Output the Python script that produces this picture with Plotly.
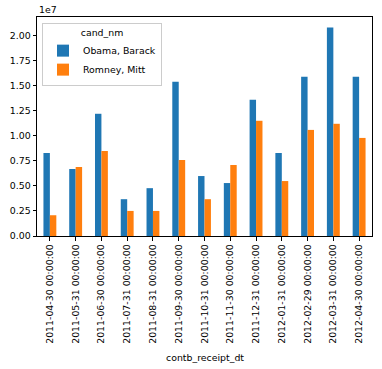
import plotly.graph_objects as go

dates = ["2011-04-30 00:00:00", "2011-05-31 00:00:00", "2011-06-30 00:00:00",
         "2011-07-31 00:00:00", "2011-08-31 00:00:00", "2011-09-30 00:00:00",
         "2011-10-31 00:00:00", "2011-11-30 00:00:00", "2011-12-31 00:00:00",
         "2012-01-31 00:00:00", "2012-02-29 00:00:00", "2012-03-31 00:00:00",
         "2012-04-30 00:00:00"]
obama = [8.28e6, 6.68e6, 12.19e6, 3.67e6, 4.77e6, 15.39e6, 5.98e6, 5.28e6,
         13.59e6, 8.28e6, 15.89e6, 20.80e6, 15.89e6]
romney = [2.07e6, 6.88e6, 8.48e6, 2.50e6, 2.50e6, 7.58e6, 3.67e6, 7.08e6,
          11.49e6, 5.48e6, 10.58e6, 11.19e6, 9.78e6]
ytickvals = [0, 2.5e6, 5e6, 7.5e6, 10e6, 12.5e6, 15e6, 17.5e6, 20e6]
yticktext = ["0.00", "0.25", "0.50", "0.75", "1.00", "1.25", "1.50", "1.75", "2.00"]

font = dict(family="DejaVu Sans", size=9.4, color="#000000")

fig = go.Figure()
fig.add_trace(go.Bar(x=dates, y=obama, name="Obama, Barack", marker=dict(color="#1f77b4", line=dict(width=0))))
fig.add_trace(go.Bar(x=dates, y=romney, name="Romney, Mitt", marker=dict(color="#ff7f0e", line=dict(width=0))))

fig.update_layout(
    width=382, height=369,
    margin=dict(l=37, r=10, t=17, b=133),
    paper_bgcolor="white", plot_bgcolor="white",
    font=font,
    barmode="group", bargap=0.5, bargroupgap=0,
    showlegend=True,
    legend=dict(
        x=0.015, y=0.973, xanchor="left", yanchor="top",
        bgcolor="rgba(255,255,255,0.8)", bordercolor="#cccccc", borderwidth=1,
        title=dict(text="cand_nm", side="top center", font=font),
        font=font, tracegroupgap=0, itemwidth=30,
    ),
    xaxis=dict(
        type="category", tickangle=-90, showgrid=False, automargin=False,
        showline=True, linecolor="black", linewidth=1, mirror=True,
        ticks="outside", ticklen=3.5, tickcolor="black",
        tickfont=font,
    ),
    yaxis=dict(
        range=[0, 2.184e7], tickvals=ytickvals, ticktext=yticktext,
        showgrid=False, zeroline=False, automargin=False,
        showline=True, linecolor="black", linewidth=1, mirror=True,
        ticks="outside", ticklen=3.5, tickcolor="black",
        tickfont=font,
    ),
    annotations=[
        dict(text="1e7", x=0, y=1, xref="paper", yref="paper",
             xanchor="left", yanchor="bottom", showarrow=False,
             font=font, yshift=0),
        dict(text="contb_receipt_dt", x=0.5, y=-0.557, xref="paper", yref="paper",
             xanchor="center", yanchor="middle", showarrow=False, font=font),
    ],
)

fig.write_html("out.html", config={"displayModeBar": False},
               post_script="document.body.style.margin='0';")
